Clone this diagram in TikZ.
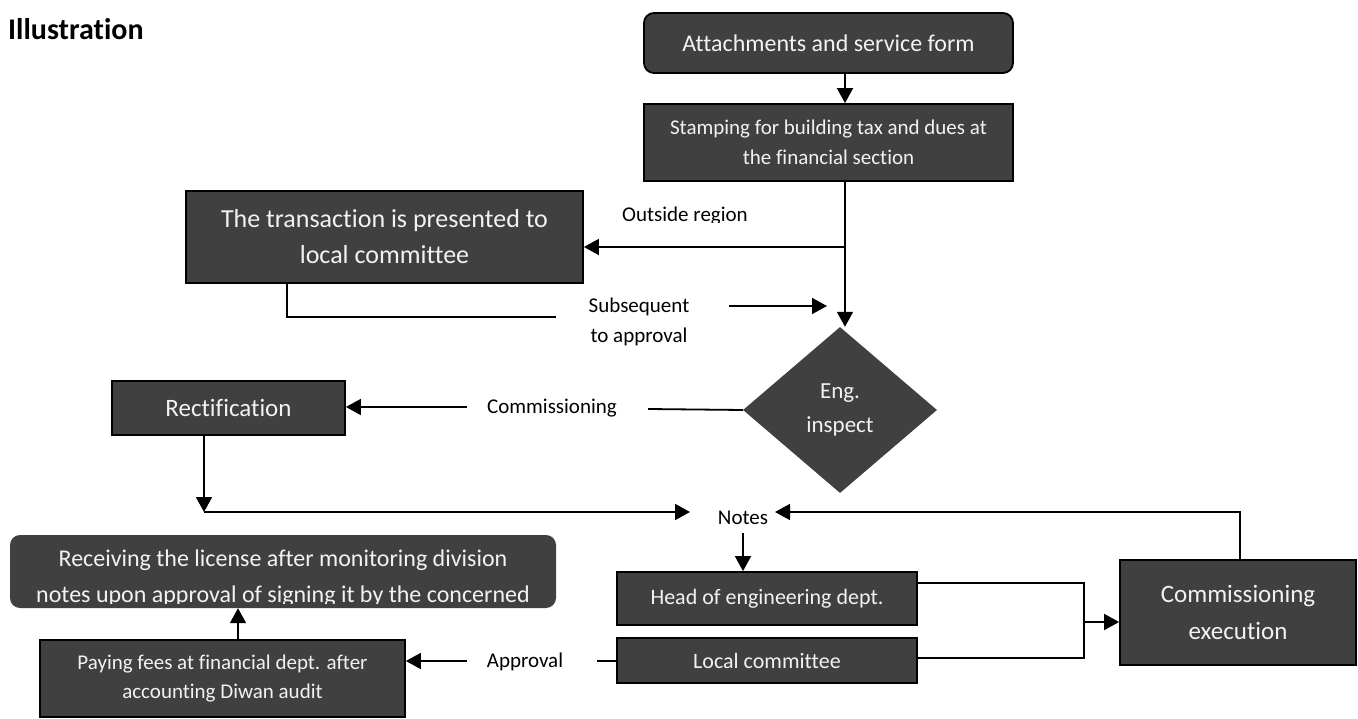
\documentclass[tikz,border=0pt]{standalone}
\usepackage{fontspec}
\setmainfont{Carlito}[Ligatures={NoCommon}]
\usetikzlibrary{arrows.meta,shapes.geometric}
\definecolor{boxfill}{HTML}{404040}
\definecolor{boxtext}{HTML}{F2F2F2}
\newcommand{\setfs}[2]{\fontsize{#1}{#2}\selectfont}
\tikzset{
  procbox/.style={draw=black, line width=1.8pt, fill=boxfill, text=boxtext,
    align=center, inner sep=0pt},
  plainbox/.style={fill=boxfill, text=boxtext, align=center, inner sep=0pt},
  lbl/.style={text=black, align=center, inner sep=0pt},
  conn/.style={line width=1.8pt, draw=black},
  arr/.style={conn, -{Triangle[length=15pt,width=16pt]}},
}
\begin{document}
\begin{tikzpicture}[x=1pt,y=-1pt]
\useasboundingbox (0,0) rectangle (1358,719);

% heading
\node[anchor=base west, inner sep=0pt, font=\setfs{30}{36}\bfseries] (title) at (8,40) {Illustration};

% upper chain
\node[procbox, rounded corners=10pt, minimum width=369pt, minimum height=60pt,
      font=\setfs{24}{30}] (attach) at (828.5,43) {Attachments and service form};
\node[procbox, minimum width=369pt, minimum height=77pt, font=\setfs{21}{30}]
      (stamp) at (828.5,142.5) {Stamping for building tax and dues at\\the financial section};
\node[procbox, minimum width=397pt, minimum height=92pt, font=\setfs{26}{36}]
      (trans) at (384.5,237) {The transaction is presented to\\local committee};
\node[diamond, fill=boxfill, text=boxtext, align=center, inner sep=0pt,
      minimum width=194pt, minimum height=166pt, font=\setfs{23}{34}]
      (eng) at (840,410) {Eng.\\inspect};
\node[procbox, minimum width=233pt, minimum height=54pt, font=\setfs{25}{30}]
      (rect) at (228.5,408) {Rectification};

% lower part
\node[plainbox, rounded corners=10pt, minimum width=546pt, minimum height=73pt]
      (recv) at (283,571.5) {};
\begin{scope}
  \clip (10,535) rectangle (556,603);
  \node[lbl, text=boxtext, font=\setfs{24}{36}] (recvtxt) at (283,578)
      {Receiving the license after monitoring division\\notes upon approval of signing it by the concerned};
\end{scope}
\node[procbox, minimum width=365pt, minimum height=77pt, font=\setfs{21}{29}]
      (pay) at (222.5,678.5) {Paying fees at financial dept. after\\accounting Diwan audit};
\node[procbox, minimum width=300pt, minimum height=53pt, font=\setfs{22}{28}]
      (head) at (767,598.5) {Head of engineering dept.};
\node[procbox, minimum width=300pt, minimum height=45pt, font=\setfs{22}{28}]
      (local) at (767,660.5) {Local committee};
\node[procbox, minimum width=236pt, minimum height=105pt, font=\setfs{25}{37}]
      (exec) at (1238,612.5) {Commissioning\\execution};

% connector labels
\begin{scope}
  \clip (600,190) rectangle (780,223);
  \node[lbl, anchor=base, font=\setfs{21}{26}] (outside) at (685,222) {Outside region};
\end{scope}
\node[lbl, font=\setfs{21}{30}] (subseq) at (639,322) {Subsequent\\to approval};
\node[lbl, font=\setfs{21}{26}] (commis) at (552,408) {Commissioning};
\node[lbl, font=\setfs{21}{26}] (notes) at (743,518) {Notes};
\node[lbl, font=\setfs{21}{26}] (approv) at (525,662) {Approval};

% junction points
\coordinate (split) at (845,247);
\coordinate (transturn) at (287,317);
\coordinate (transend) at (556,317);
\coordinate (subseqa) at (729,306);
\coordinate (subseqb) at (827,306);
\coordinate (commisa) at (648,409);
\coordinate (commisb) at (467,407);
\coordinate (rectturn) at (204,512);
\coordinate (notesleft) at (690,512);
\coordinate (execturn) at (1240,512);
\coordinate (notesright) at (775,512);
\coordinate (notestop) at (743,533);
\coordinate (merge) at (1084,622);
\coordinate (approva) at (597,661);
\coordinate (approvb) at (467,661);

% connectors
\draw[arr] (attach.south -| split) -- (stamp.north -| split);
\draw[arr] (stamp.south -| split) -- (eng.north -| split);
\draw[arr] (split) -- (split -| trans.east);
\draw[conn] (trans.south -| transturn) -- (transturn) -- (transend);
\draw[arr] (subseqa) -- (subseqb);
\draw[conn] (eng.west) -- (commisa);
\draw[arr] (commisb) -- (commisb -| rect.east);
\draw[arr] (rect.south -| rectturn) -- (rectturn);
\draw[arr] (rectturn) -- (notesleft);
\draw[arr] (exec.north -| execturn) -- (execturn) -- (notesright);
\draw[arr] (notestop) -- (notestop |- head.north);
\draw[conn] (head.east |- 0,583) -- (merge |- 0,583) -- (merge |- 0,658) -- (local.east |- 0,658);
\draw[arr] (merge) -- (merge -| exec.west);
\draw[conn] (approva) -- (approva -| local.west);
\draw[arr] (approvb) -- (approvb -| pay.east);
\draw[arr] (pay.north -| 238,0) -- (recv.south -| 238,0);
\end{tikzpicture}
\end{document}
